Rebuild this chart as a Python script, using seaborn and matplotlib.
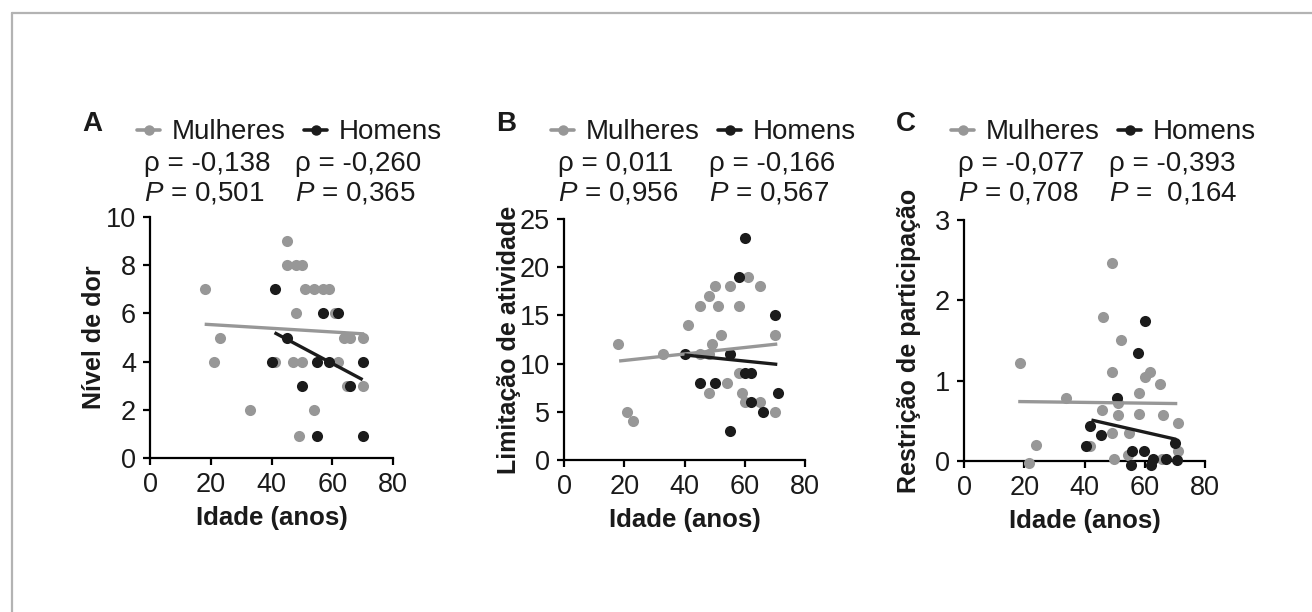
import matplotlib.pyplot as plt
from matplotlib.lines import Line2D
import seaborn as sns

sns.set_theme(style="ticks")
plt.rcParams['font.family'] = ['Liberation Sans', 'DejaVu Sans']
plt.rcParams['mathtext.fontset'] = 'custom'
plt.rcParams['mathtext.it'] = 'Liberation Sans:italic'
plt.rcParams['mathtext.rm'] = 'Liberation Sans'

GRAY = '#979797'
BLACK = '#1b1b1b'

# A - Nivel de dor
a_w_age = [18, 23, 21, 33, 45, 45, 48, 50, 51, 54, 57, 59, 48, 61, 64, 66, 70, 41, 47, 50, 62, 65, 70, 54, 49]
a_w_val = [7, 5, 4, 2, 9, 8, 8, 8, 7, 7, 7, 7, 6, 6, 5, 5, 5, 4, 4, 4, 4, 3, 3, 2, 0.9]
a_m_age = [41, 57, 62, 45, 40, 55, 59, 70, 50, 66, 55, 70]
a_m_val = [7, 6, 6, 5, 4, 4, 4, 4, 3, 3, 0.9, 0.9]
a_w_fit_x, a_w_fit_y = [18, 70.5], [5.55, 5.15]
a_m_fit_x, a_m_fit_y = [41, 70], [5.2, 3.25]

# B - Limitacao de atividade
b_w_age = [18, 21, 23, 33, 41, 45, 48, 50, 51, 52, 49, 45, 48, 48, 55, 58, 54, 58, 59, 60, 61, 65, 65, 70, 70]
b_w_val = [12, 5, 4, 11, 14, 16, 17, 18, 16, 13, 12, 11, 11, 7, 18, 16, 8, 9, 7, 6, 19, 18, 6, 13, 5]
b_m_age = [40, 45, 50, 55, 55, 58, 60, 60, 62, 62, 66, 70, 71]
b_m_val = [11, 8, 8, 11, 3, 19, 23, 9, 9, 6, 5, 15, 7]
b_w_fit_x, b_w_fit_y = [18.3, 70.8], [10.27, 12.03]
b_m_fit_x, b_m_fit_y = [40, 70.8], [10.9, 9.92]

# C - Restricao de participacao
c_w_age = [49, 46, 52, 18.5, 49, 60, 61.6, 65, 58, 34, 51, 45.7, 51, 58, 66, 71, 49, 54.7, 24, 41.7, 21.6, 49.7, 54.6, 71, 65.7]
c_w_val = [2.47, 1.79, 1.51, 1.22, 1.11, 1.05, 1.11, 0.96, 0.85, 0.78, 0.72, 0.63, 0.57, 0.59, 0.57, 0.47,
           0.35, 0.35, 0.2, 0.19, -0.03, 0.02, 0.07, 0.12, 0.03]
c_m_age = [60.2, 57.9, 50.9, 41.7, 45.6, 40.4, 70.1, 55.8, 59.9, 55.5, 62.1, 62.7, 67.1, 70.8]
c_m_val = [1.74, 1.34, 0.79, 0.43, 0.32, 0.19, 0.23, 0.13, 0.13, -0.05, -0.05, 0.03, 0.03, 0.01]
c_w_fit_x, c_w_fit_y = [18, 70.8], [0.74, 0.715]
c_m_fit_x, c_m_fit_y = [42.3, 70.4], [0.51, 0.27]

letters = ['A', 'B', 'C']
ylabels = ['Nível de dor', 'Limitação de atividade', 'Restrição de participação']
yticks = [[0, 2, 4, 6, 8, 10], [0, 5, 10, 15, 20, 25], [0, 1, 2, 3]]
rho_w = ['ρ = -0,138', 'ρ = 0,011', 'ρ = -0,077']
rho_m = ['ρ = -0,260', 'ρ = -0,166', 'ρ = -0,393']
p_w = ['$P$ = 0,501', '$P$ = 0,956', '$P$ = 0,708']
p_m = ['$P$ = 0,365', '$P$ = 0,567', '$P$ =  0,164']

data = [
    (a_w_age, a_w_val, a_m_age, a_m_val, a_w_fit_x, a_w_fit_y, a_m_fit_x, a_m_fit_y),
    (b_w_age, b_w_val, b_m_age, b_m_val, b_w_fit_x, b_w_fit_y, b_m_fit_x, b_m_fit_y),
    (c_w_age, c_w_val, c_m_age, c_m_val, c_w_fit_x, c_w_fit_y, c_m_fit_x, c_m_fit_y),
]

W, H = 1312, 612
boxes = [(150, 217, 393, 458), (564, 219, 805, 460), (964, 220, 1205, 461)]
TXT = '#1a1a1a'


def fx(px):
    return px / W


def fy(py):
    return 1 - py / H


fig = plt.figure(figsize=(W / 100, H / 100), dpi=100)
fig.patch.set_facecolor('white')

# light frame (top and left edges visible)
fig.add_artist(Line2D([fx(12), 1], [fy(13), fy(13)], transform=fig.transFigure, color='#b3b3b3', lw=1.6))
fig.add_artist(Line2D([fx(12), fx(12)], [fy(13), 0], transform=fig.transFigure, color='#b3b3b3', lw=1.6))

for i, (l, t, r, b) in enumerate(boxes):
    wa, wv, ma, mv, wfx, wfy, mfx, mfy = data[i]
    ax = fig.add_axes([fx(l), fy(b), (r - l) / W, (b - t) / H])
    sns.scatterplot(x=wa, y=wv, color=GRAY, s=64, linewidth=0, ax=ax, clip_on=False, zorder=3)
    sns.scatterplot(x=ma, y=mv, color=BLACK, s=64, linewidth=0, ax=ax, clip_on=False, zorder=3)
    ax.plot(wfx, wfy, color=GRAY, lw=2.4, zorder=4, solid_capstyle='butt')
    ax.plot(mfx, mfy, color=BLACK, lw=2.4, zorder=4, solid_capstyle='butt')

    ax.set_xlim(0, 80)
    ax.set_xticks([0, 20, 40, 60, 80])
    ax.set_ylim(yticks[i][0], yticks[i][-1])
    ax.set_yticks(yticks[i])
    sns.despine(ax=ax)
    for s in ['left', 'bottom']:
        ax.spines[s].set_linewidth(1.6)
        ax.spines[s].set_color('black')
    ax.tick_params(length=5, width=1.6, labelsize=19.5, pad=5, color='black', labelcolor=TXT)
    ax.set_xlabel('Idade (anos)', fontsize=18.5, fontweight='bold', labelpad=6, color=TXT)
    ax.set_ylabel(ylabels[i], fontsize=18, fontweight='bold', color=TXT)
    ax.yaxis.set_label_coords(-0.18, 0.5)

    # panel letter
    fig.text(fx(l - 58), fy(131), letters[i], fontsize=20, fontweight='bold', ha='center', va='baseline',
             color=TXT)

    # legend
    for x0, col, lab in [(l - 13, GRAY, 'Mulheres'), (l + 154, BLACK, 'Homens')]:
        fig.add_artist(Line2D([fx(x0), fx(x0 + 23)], [fy(130), fy(130)], transform=fig.transFigure,
                              color=col, lw=2.6))
        fig.add_artist(Line2D([fx(x0 + 11.5)], [fy(130)], transform=fig.transFigure,
                              color=col, marker='o', ms=6.5, lw=0))
        fig.text(fx(x0 + 35), fy(139), lab, fontsize=20, ha='left', va='baseline', color=TXT)

    # correlation stats
    fig.text(fx(l - 6), fy(171), rho_w[i], fontsize=20, ha='left', va='baseline', color=TXT)
    fig.text(fx(l + 145), fy(171), rho_m[i], fontsize=20, ha='left', va='baseline', color=TXT)
    fig.text(fx(l - 6), fy(201), p_w[i], fontsize=20, ha='left', va='baseline', color=TXT)
    fig.text(fx(l + 145), fy(201), p_m[i], fontsize=20, ha='left', va='baseline', color=TXT)

fig.savefig('out.png', dpi=100)
